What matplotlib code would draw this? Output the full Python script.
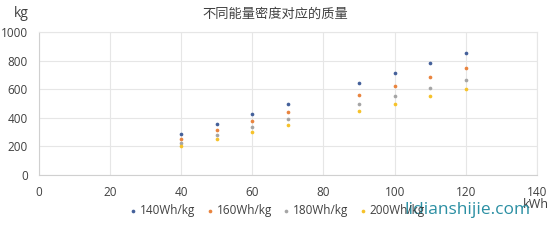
import matplotlib.pyplot as plt

plt.rcParams['font.family'] = ['Open Sans', 'Noto Sans CJK SC', 'DejaVu Sans']

# capacity (kWh)
kwh = [40, 50, 60, 70, 90, 100, 110, 120]
# pack mass (kg) for each energy density
m140 = [286, 357, 429, 500, 643, 714, 786, 857]
m160 = [250, 313, 375, 438, 563, 625, 688, 750]
m180 = [222, 278, 333, 389, 500, 556, 611, 667]
m200 = [200, 250, 300, 350, 450, 500, 550, 600]
series_names = ['140Wh/kg', '160Wh/kg', '180Wh/kg', '200Wh/kg']
colors = ['#44609a', '#e9843f', '#a5a5a5', '#f6c22a']

fig = plt.figure(figsize=(5.5, 2.43), dpi=100)
ax = fig.add_axes([0.071, 0.280, 0.905, 0.588])

for vals, name, c in zip([m140, m160, m180, m200], series_names, colors):
    ax.scatter(kwh, vals, s=7, color=c, label=name, zorder=3, linewidths=0)

ax.set_xlim(0, 140)
ax.set_ylim(0, 1000)
ax.set_xticks(range(0, 141, 20))
ax.set_yticks(range(0, 1001, 200))
ax.grid(True, color='#e6e6e6', linewidth=0.8)
ax.set_axisbelow(True)
for s in ax.spines.values():
    s.set_color('#e6e6e6')
    s.set_linewidth(0.8)
ax.spines['bottom'].set_color('#d0d0d0')
ax.spines['left'].set_color('#d0d0d0')
ax.tick_params(length=0, labelsize=8.5, colors='#404040', pad=8)

fig.text(0.5, 0.94, '不同能量密度对应的质量', ha='center', va='center',
         fontsize=9.5, color='#404040')
fig.text(0.038, 0.945, 'kg', ha='center', va='center', fontsize=10, color='#404040')
fig.text(0.975, 0.158, 'kWh', ha='center', va='center', fontsize=9, color='#404040')

leg = fig.legend(loc='center', bbox_to_anchor=(0.502, 0.135), ncol=4, frameon=False,
                 fontsize=8.5, handletextpad=0.1, columnspacing=0.7,
                 markerscale=1.0, handlelength=1.0, labelcolor='#404040')

fig.text(0.85, 0.135, 'lidianshijie.com', ha='center', va='center',
         fontsize=12.5, color='#2b8fa3')

fig.savefig('out.png', dpi=100)
